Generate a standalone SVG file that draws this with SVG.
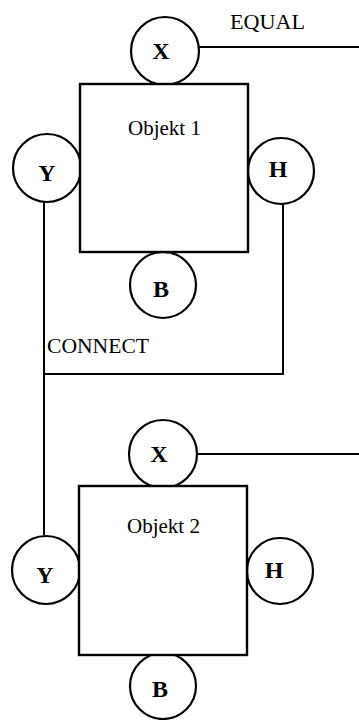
<svg xmlns="http://www.w3.org/2000/svg" width="359" height="720" viewBox="0 0 359 720">
<style>
.port{fill:#fff;stroke:#000;stroke-width:2.2}
.box{fill:#fff;stroke:#000;stroke-width:2.4}
.wire{fill:none;stroke:#000;stroke-width:2}
.pl{font-family:"Liberation Serif","DejaVu Serif",serif;font-size:24px;font-weight:bold;text-anchor:middle;fill:#000}
.ol{font-family:"Liberation Serif","DejaVu Serif",serif;font-size:21px;text-anchor:middle;fill:#000}
.cl{font-family:"Liberation Serif","DejaVu Serif",serif;font-size:20px;fill:#000}
</style>
<rect width="359" height="720" fill="#fff"/>
<g id="connectors">
<line class="wire" x1="199" y1="47" x2="359" y2="47"/>
<text class="cl" x="230" y="29" textLength="75" lengthAdjust="spacingAndGlyphs">EQUAL</text>
<polyline class="wire" points="44,202 44,535"/>
<polyline class="wire" points="283,204 283,374 44,374"/>
<text class="cl" x="47" y="353" textLength="102" lengthAdjust="spacingAndGlyphs">CONNECT</text>
<line class="wire" x1="197" y1="454" x2="359" y2="454"/>
</g>
<g id="obj1-X"><circle class="port" cx="165" cy="51" r="34"/><text class="pl" x="161" y="59">X</text></g>
<g id="obj1-Y"><circle class="port" cx="47" cy="168" r="34"/><text class="pl" x="47" y="181">Y</text></g>
<g id="obj1-H"><circle class="port" cx="281" cy="171" r="33"/><text class="pl" x="278" y="177">H</text></g>
<g id="obj1-B"><circle class="port" cx="163" cy="285" r="33"/><text class="pl" x="161" y="297">B</text></g>
<g id="obj1"><rect class="box" x="80" y="84" width="168" height="168"/><text class="ol" x="164.5" y="135">Objekt 1</text></g>
<g id="obj2-X"><circle class="port" cx="163" cy="454" r="34"/><text class="pl" x="159" y="462">X</text></g>
<g id="obj2-Y"><circle class="port" cx="46" cy="570" r="34"/><text class="pl" x="45" y="583">Y</text></g>
<g id="obj2-H"><circle class="port" cx="280" cy="571" r="33"/><text class="pl" x="274" y="578">H</text></g>
<g id="obj2-B"><circle class="port" cx="163" cy="686" r="33"/><text class="pl" x="160" y="697">B</text></g>
<g id="obj2"><rect class="box" x="79" y="486" width="168" height="169"/><text class="ol" x="163.5" y="533">Objekt 2</text></g>
</svg>
